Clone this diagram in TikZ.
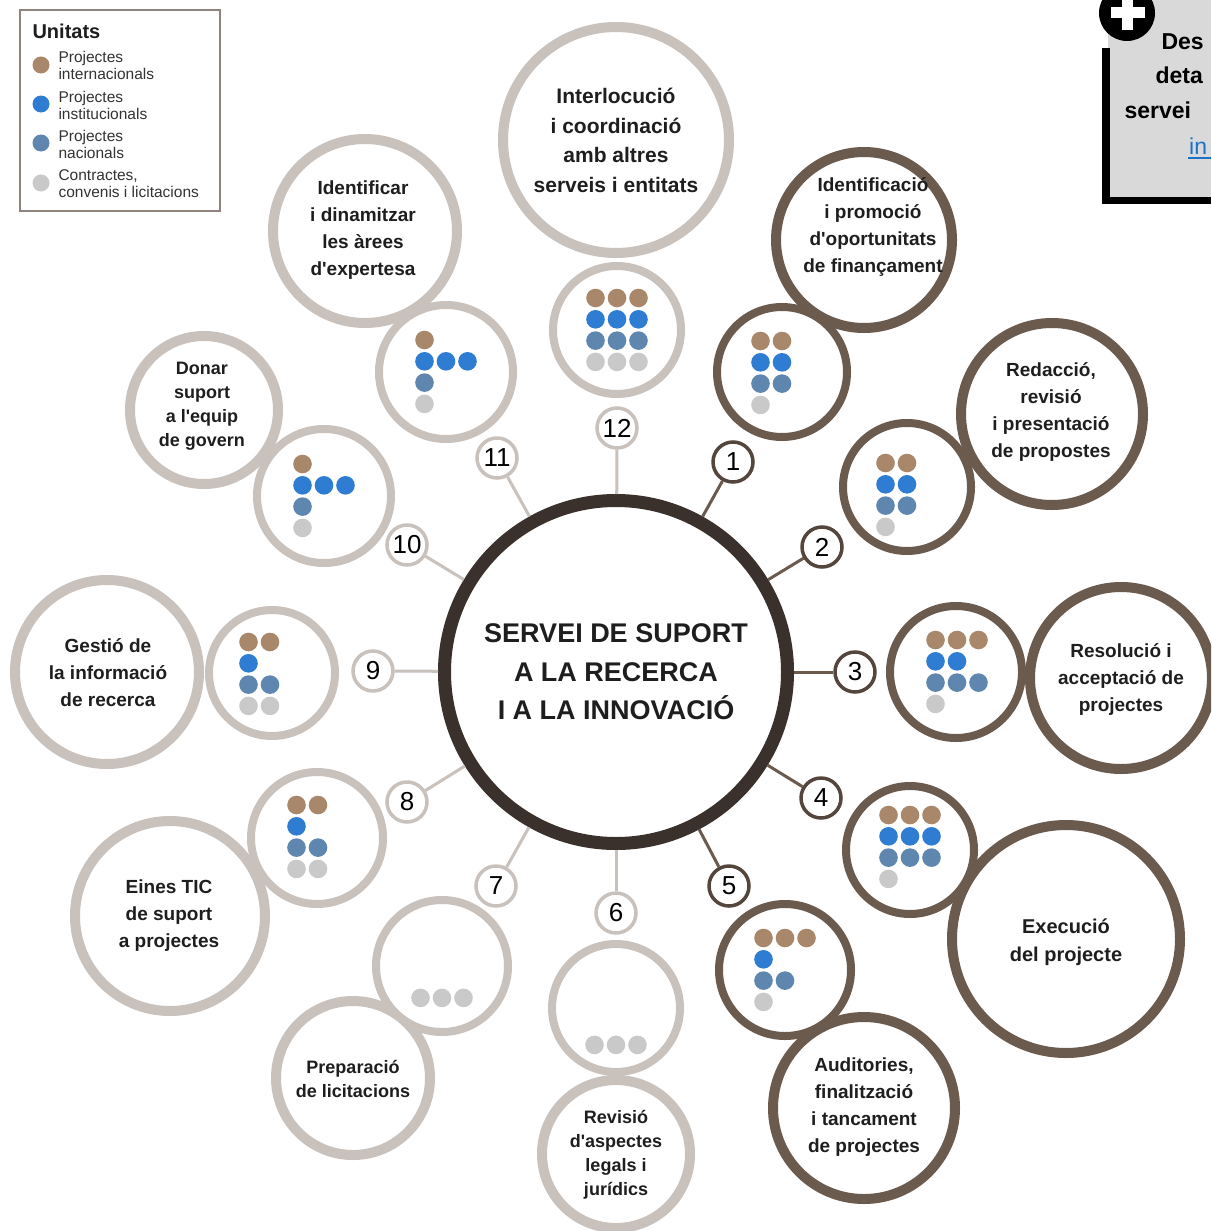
\documentclass[tikz,border=0pt]{standalone}
\usepackage{fontspec}
\setmainfont{Liberation Sans}[Ligatures=TeXOff]
\definecolor{darkring}{HTML}{3A312C}
\definecolor{brownring}{HTML}{6B5A4E}
\definecolor{greyring}{HTML}{C8C1BC}
\definecolor{badgebrown}{HTML}{54463D}
\definecolor{dotcol0}{HTML}{A8876A}
\definecolor{dotcol1}{HTML}{2E7DD2}
\definecolor{dotcol2}{HTML}{5E86AE}
\definecolor{dotcol3}{HTML}{C9C9C9}
\definecolor{legendline}{HTML}{8E847D}
\definecolor{boxgrey}{HTML}{D9D9D9}
\definecolor{linkblue}{HTML}{1A73C8}
\definecolor{txtcol}{HTML}{1E1E1E}
\newcommand\dotgrid[6]{%
  \foreach \n [count=\r from 0] in {#3,#4,#5,#6}{%
    \ifnum\n>0
      \foreach \c in {1,...,\n}{%
        \fill[dotcol\r] ({#1+(\c-2)*21.5},{#2-32+\r*21.3}) circle (9.3pt);
      }%
    \fi
  }%
}
\begin{document}
\begin{tikzpicture}[x=1pt,y=-1pt,
  ringg/.style={circle, draw=greyring, fill=white, inner sep=0pt},
  ringb/.style={circle, draw=brownring, fill=white, inner sep=0pt},
  bigw/.style={line width=10pt},
  dotw/.style={line width=8pt},
  badgeb/.style={circle, draw=badgebrown, fill=white, line width=3.5pt, minimum size=40pt, inner sep=0pt, font=\fontsize{26}{26}\selectfont},
  badgeg/.style={circle, draw=greyring, fill=white, line width=3.5pt, minimum size=40pt, inner sep=0pt, font=\fontsize{26}{26}\selectfont},
  txt/.style={align=center, text=txtcol, font=\bfseries\fontsize{19}{27}\selectfont},
  txts/.style={align=center, text=txtcol, font=\bfseries\fontsize{18}{24}\selectfont},
  conb/.style={draw=brownring, line width=3pt},
  cong/.style={draw=greyring, line width=3pt},
  legtxt/.style={anchor=west, align=left, text=black!80, font=\fontsize{15.5}{17}\selectfont},
  boxtxt/.style={anchor=base west, font=\bfseries\fontsize{23}{23}\selectfont}
]
\useasboundingbox (0,0) rectangle (1211,1231);
\clip (0,0) rectangle (1211,1231);
\fill[white] (0,0) rectangle (1211,1231);

% ---- label circles
\node[ringg,bigw,minimum size=226pt] (L12) at (616,140) {};
\node[ringb,bigw,minimum size=176pt] (L1) at (864,240) {};
\node[ringb,bigw,minimum size=182pt] (L2) at (1052,414) {};
\node[ringb,bigw,minimum size=182pt] (L3) at (1121,678) {};
\node[ringb,bigw,minimum size=228pt] (L4) at (1066,939) {};
\node[ringb,bigw,minimum size=182pt] (L5) at (864,1108) {};
\node[ringg,bigw,minimum size=148pt] (L6) at (616,1154) {};
\node[ringg,bigw,minimum size=154pt] (L7) at (353,1078) {};
\node[ringg,bigw,minimum size=190pt] (L8) at (170,916) {};
\node[ringg,bigw,minimum size=184pt] (L9) at (107,672) {};
\node[ringg,bigw,minimum size=148pt] (L10) at (204,410) {};
\node[ringg,bigw,minimum size=184pt] (L11) at (365,231) {};

% ---- dot circles
\node[ringg,dotw,minimum size=128pt] (D12) at (617,330) {};
\node[ringg,dotw,minimum size=134pt] (D11) at (446,372) {};
\node[ringb,dotw,minimum size=130pt] (D1) at (782,372) {};
\node[ringb,dotw,minimum size=128pt] (D2) at (907,487) {};
\node[ringb,dotw,minimum size=132pt] (D3) at (956,672) {};
\node[ringb,dotw,minimum size=128pt] (D4) at (910,850) {};
\node[ringb,dotw,minimum size=132pt] (D5) at (785,970) {};
\node[ringg,dotw,minimum size=128pt] (D6) at (616,1008) {};
\node[ringg,dotw,minimum size=132pt] (D7) at (442,966) {};
\node[ringg,dotw,minimum size=132pt] (D8) at (317,838) {};
\node[ringg,dotw,minimum size=126pt] (D9) at (272,673) {};
\node[ringg,dotw,minimum size=134pt] (D10) at (324,496) {};

% ---- dots
\dotgrid{617}{330}{3}{3}{3}{3}
\dotgrid{446}{372}{1}{3}{1}{1}
\dotgrid{782}{373}{2}{2}{2}{1}
\dotgrid{907}{495}{2}{2}{2}{1}
\dotgrid{957}{672}{3}{2}{3}{1}
\dotgrid{910}{847}{3}{3}{3}{1}
\dotgrid{785}{970}{3}{1}{2}{1}
\dotgrid{616}{1013}{0}{0}{0}{3}
\dotgrid{442}{966}{0}{0}{0}{3}
\dotgrid{318}{837}{2}{1}{2}{2}
\dotgrid{270}{674}{2}{1}{2}{2}
\dotgrid{324}{496}{1}{3}{1}{1}

% ---- centre
\node[circle, draw=darkring, fill=white, line width=13pt, minimum size=343pt, inner sep=0pt,
      align=center, text=txtcol, font=\bfseries\fontsize{27}{38.5}\selectfont] (C) at (616,672)
  {SERVEI DE SUPORT\\A LA RECERCA\\I A LA INNOVACI\'O};

% ---- badges
\node[badgeb] (b1) at (733,462) {1};
\node[badgeb] (b2) at (822,547) {2};
\node[badgeb] (b3) at (855,672) {3};
\node[badgeb] (b4) at (821,798) {4};
\node[badgeb] (b5) at (729,886) {5};
\node[badgeg] (b6) at (616,913) {6};
\node[badgeg] (b7) at (496,886) {7};
\node[badgeg] (b8) at (407,802) {8};
\node[badgeg] (b9) at (373,671) {9};
\node[badgeg] (b10) at (407,545) {10};
\node[badgeg] (b11) at (497,458) {11};
\node[badgeg] (b12) at (617,428) {12};

% ---- connectors
\foreach \i in {1,...,5}{\draw[conb] (C) -- (b\i);}
\foreach \i in {6,...,12}{\draw[cong] (C) -- (b\i);}

% ---- label texts
\node[txt, font=\bfseries\fontsize{21}{29.7}\selectfont] (t12) at (616,140.5) {Interlocuci\'o\\i coordinaci\'o\\amb altres\\serveis i entitats};
\node[txt] (t1) at (873,227.5) {Identificaci\'o\\i promoci\'o\\d'oportunitats\\de finan\c{c}ament};
\node[txt] (t2) at (1051,411.5) {Redacci\'o,\\revisi\'o\\i presentaci\'o\\de propostes};
\node[txt] (t3) at (1121,679) {Resoluci\'o i\\acceptaci\'o de\\projectes};
\node[txt, font=\bfseries\fontsize{20}{28}\selectfont] (t4) at (1066,942) {Execuci\'o\\del projecte};
\node[txt] (t5) at (864,1107.5) {Auditories,\\finalitzaci\'o\\i tancament\\de projectes};
\node[txts] (t6) at (616,1155) {Revisi\'o\\d'aspectes\\legals i\\jur\'idics};
\node[txts] (t7) at (353,1079) {Preparaci\'o\\de licitacions};
\node[txt] (t8) at (169,916) {Eines TIC\\de suport\\a projectes};
\node[txt] (t9) at (108,673) {Gesti\'o de\\la informaci\'o\\de recerca};
\node[txts] (t10) at (202,406) {Donar\\suport\\a l'equip\\de govern};
\node[txt] (t11) at (363,230.5) {Identificar\\i dinamitzar\\les \`arees\\d'expertesa};

% ---- legend
\draw[legendline, line width=2pt, fill=white] (20,10) rectangle (220,211);
\node[anchor=west, font=\bfseries\fontsize{20}{20}\selectfont, text=txtcol] (lt) at (29,31) {Unitats};
\fill[dotcol0] (41,65) circle (8.5pt);
\fill[dotcol1] (41,104) circle (8.5pt);
\fill[dotcol2] (41,143) circle (8.5pt);
\fill[dotcol3] (41,183) circle (8.5pt);
\node[legtxt] (l1) at (55,65.5) {Projectes\\internacionals};
\node[legtxt] (l2) at (55,105) {Projectes\\institucionals};
\node[legtxt] (l3) at (55,144) {Projectes\\nacionals};
\node[legtxt] (l4) at (55,183.5) {Contractes,\\convenis i licitacions};

% ---- top-right box
\fill[boxgrey] (1108,0) rectangle (1211,198);
\fill[black] (1102,48) rectangle (1110,204);
\fill[black] (1102,197) rectangle (1211,204);
\fill[black] (1127,13) circle (28pt);
\fill[white] (1110.5,7.5) rectangle (1144.5,18.5);
\fill[white] (1122,-4) rectangle (1133,30);
\node[boxtxt] (x1) at (1158,50) {Des};
\node[boxtxt] (x2) at (1152,84) {deta};
\node[boxtxt] (x3) at (1121,118) {servei};
\node[boxtxt, text=linkblue, font=\fontsize{23}{23}\selectfont, inner sep=1pt] (x4) at (1188,154) {in};
\draw[linkblue, line width=1.3pt] (1188,158) -- (1211,158);
\end{tikzpicture}
\end{document}
